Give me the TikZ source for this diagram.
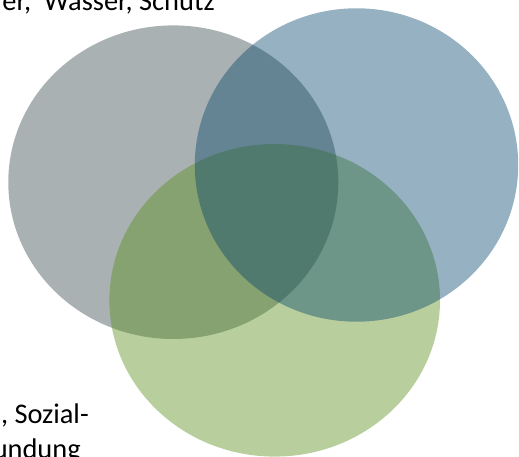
\documentclass[tikz,border=0pt]{standalone}
\usepackage{fontspec}
\setmainfont{Carlito}
\usepackage{tikz}
\usepackage{xcolor}
\usetikzlibrary{positioning}

\definecolor{venngray}{RGB}{50,69,74}
\definecolor{vennblue}{RGB}{5,69,107}
\definecolor{venngreen}{RGB}{86,141,22}

\tikzset{
  venn/.style={fill opacity=0.42},
  label text/.style={anchor=base east, inner sep=0pt, text=black, font=\fontsize{21.3}{26}\selectfont}
}

\begin{document}
\begin{tikzpicture}[x=0.75pt, y=0.75pt]
            \useasboundingbox (0,0) rectangle (519,457);
            \clip (0,0) rectangle (519,457);
            \fill[venn, venngray] (173.3,274.8) ellipse (165 and 156.8);
            \fill[venn, venngreen] (274.7,156.7) ellipse (165.3 and 156.3);
            \fill[venn, vennblue] (356.5,292) ellipse (161.7 and 156.7);
            \node[label text] (needs) at (215,446) {er,\ \ Wasser, Schutz};
            \node[label text] (social) at (89,33.7) {, Sozial-};
            \node[label text] (social2) at (81,-1.5) {undung};
\end{tikzpicture}
\end{document}
